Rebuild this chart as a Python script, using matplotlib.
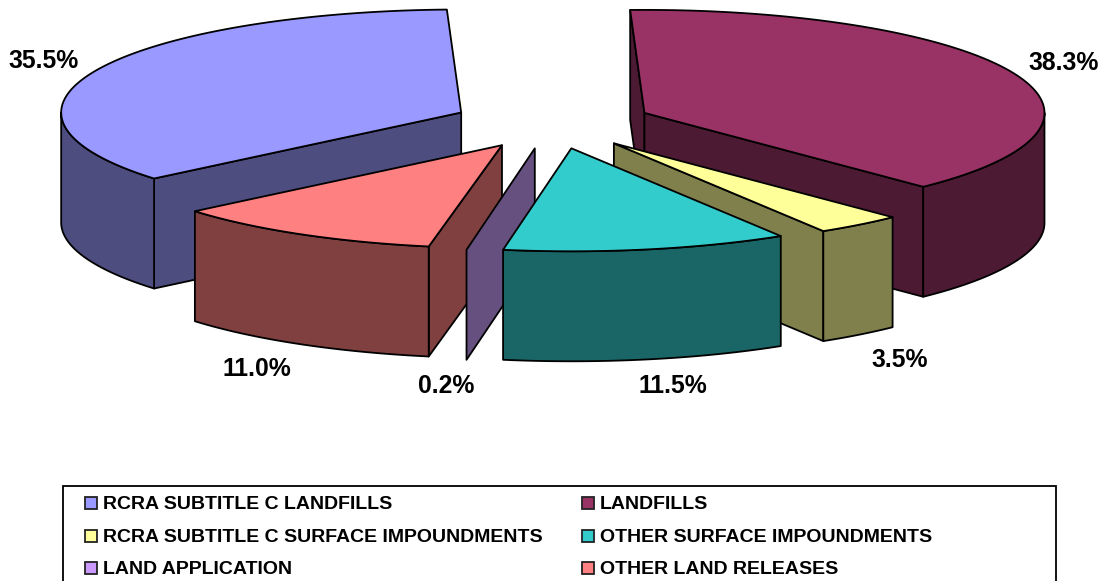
import matplotlib

matplotlib.use("Agg", force=True)

import matplotlib.pyplot as plt
import numpy as np
from matplotlib.patches import Polygon, Rectangle

plt.rcParams["font.family"] = ["Liberation Sans", "DejaVu Sans"]

# pie slices, in clockwise order from the start angle
categories = [
    "RCRA SUBTITLE C LANDFILLS",
    "LANDFILLS",
    "RCRA SUBTITLE C SURFACE IMPOUNDMENTS",
    "OTHER SURFACE IMPOUNDMENTS",
    "LAND APPLICATION",
    "OTHER LAND RELEASES",
]
shares = [35.5, 38.3, 3.5, 11.5, 0.2, 11.0]
value_labels = ["35.5%", "38.3%", "3.5%", "11.5%", "0.2%", "11.0%"]
top_colors = ["#9999FF", "#993366", "#FFFF99", "#33CCCC", "#CC99FF", "#FF8080"]
side_colors = ["#4D4D80", "#4D1A33", "#80804D", "#1A6666", "#66507F", "#804040"]

# label centres and the order slices get painted, back to front
label_xy = [(44, 61), (1064, 63), (900, 360), (673, 386), (446, 386), (257, 369)]
paint_order = [0, 1, 2, 5, 4, 3]

START_ANGLE = 219.85
CENTER = (552.5, 123.0)
RADIUS_X = 400.0
RADIUS_Y = 103.0
DEPTH = 110.0
EXPLODE = 0.25
THIN_SWEEP = 1.0
EDGE = {"edgecolor": "black", "linewidth": 1.3, "joinstyle": "round"}


def rim(apex, angles):
    """Return points on the elliptical rim around a slice apex."""
    t = np.radians(angles)
    return np.column_stack(
        [apex[0] + RADIUS_X * np.cos(t), apex[1] - RADIUS_Y * np.sin(t)]
    )


def drop(points):
    """Shift points down by the pie thickness."""
    return np.asarray(points) + [0, DEPTH]


def draw_slice(axis, hi, lo, top_color, side_color):
    """Draw one exploded slice spanning angles hi down to lo."""
    mid = np.radians((hi + lo) / 2)
    apex = (
        CENTER[0] + EXPLODE * RADIUS_X * np.cos(mid),
        CENTER[1] - EXPLODE * RADIUS_Y * np.sin(mid),
    )
    # radial walls, only those facing the viewer
    for angle, visible in ((hi, np.cos(np.radians(hi)) < 0), (lo, np.cos(np.radians(lo)) > 0)):
        if visible:
            edge = np.vstack([apex, rim(apex, [angle])])
            wall = np.vstack([edge, drop(edge)[::-1]])
            axis.add_patch(Polygon(wall, facecolor=side_color, **EDGE))
    # a hairline slice shows as nothing more than its wall
    if hi - lo < THIN_SWEEP:
        return
    # outer wall: the part of the rim on the near half of the ellipse
    near = [(-180.0, 0.0), (180.0, 360.0)]
    for near_lo, near_hi in near:
        a = max(lo, near_lo)
        b = min(hi, near_hi)
        if b > a:
            arc = rim(apex, np.linspace(a, b, 80))
            axis.add_patch(
                Polygon(np.vstack([arc, drop(arc)[::-1]]), facecolor=side_color, **EDGE)
            )
    arc = rim(apex, np.linspace(hi, lo, 160))
    axis.add_patch(Polygon(np.vstack([apex, arc]), facecolor=top_color, **EDGE))


def draw_legend(axis):
    """Draw the two-column legend box, which runs off the bottom edge."""
    axis.add_patch(
        Rectangle((62.5, 486), 993.5, 120, facecolor="white", edgecolor="black", linewidth=1.3)
    )
    rows = [503, 536, 568]
    columns = [85, 581.5]
    for i, name in enumerate(categories):
        x = columns[i % 2]
        y = rows[i // 2]
        axis.add_patch(
            Rectangle((x, y - 6), 12, 12, facecolor=top_colors[i], edgecolor="#222222", linewidth=1.3)
        )
        axis.text(x + 18, y + 1.2, name, fontsize=14.0, fontweight="bold", ha="left", va="center")


fig = plt.figure(figsize=(11.02, 5.81), dpi=100)
ax = fig.add_axes([0, 0, 1, 1])
ax.set_xlim(0, 1102)
ax.set_ylim(581, 0)
ax.axis("off")

spans = START_ANGLE - np.cumsum([0] + shares) * 3.6
for idx in paint_order:
    draw_slice(ax, spans[idx], spans[idx + 1], top_colors[idx], side_colors[idx])

for text, (x, y) in zip(value_labels, label_xy):
    ax.text(x, y, text, fontsize=17.8, fontweight="bold", ha="center", va="center")

draw_legend(ax)

fig.savefig("out.png", dpi=100)
plt.close(fig)
